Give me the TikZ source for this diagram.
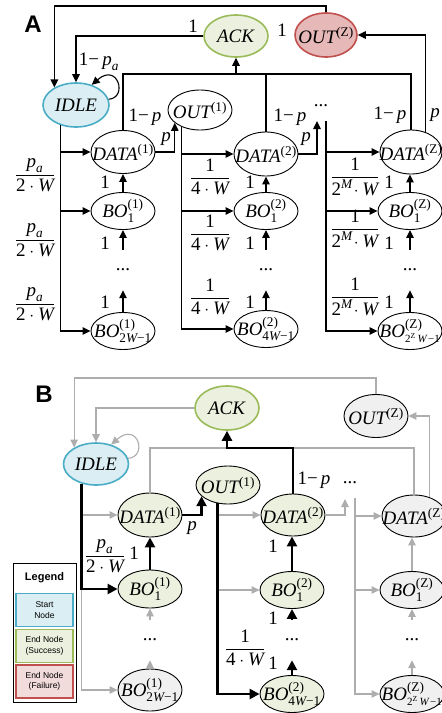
\documentclass[tikz,border=0pt]{standalone}
\usepackage{amsmath}
\usepackage{fontspec}
\setmainfont{Liberation Serif}
\newfontfamily\lsans{Liberation Sans}
\usetikzlibrary{shapes.geometric,arrows.meta,calc}
\definecolor{bluefill}{HTML}{DAEEF3}
\definecolor{blueline}{HTML}{4BACC6}
\definecolor{greenfill}{HTML}{EBF1DE}
\definecolor{greenline}{HTML}{9BBB59}
\definecolor{redfill}{HTML}{E6B8B7}
\definecolor{redlight}{HTML}{F2DCDB}
\definecolor{redline}{HTML}{C0504D}
\definecolor{grayfill}{HTML}{F0F0F0}
\definecolor{linegray}{HTML}{ADADAD}
\newcommand{\mi}[1]{\textit{#1}}
\newcommand{\up}[1]{\textrm{#1}}
\newcommand{\zsub}{\hbox{\fontsize{11}{11}\selectfont 2\textsuperscript{Z}\,\textit{W}\kern0.5pt−1}}
\tikzset{
  st/.style={ellipse, draw, line width=0.9pt, minimum width=64pt, minimum height=42pt, inner sep=0pt},
  wh/.style={st, fill=white},
  gy/.style={st, fill=grayfill},
  gn/.style={st, fill=greenfill},
  bo/.style={minimum height=37pt},
  startn/.style={st, fill=bluefill, draw=blueline, line width=1.6pt},
  succn/.style={st, fill=greenfill, draw=greenline, line width=1.6pt},
  failn/.style={st, fill=redfill, draw=redline, line width=1.6pt},
  ln/.style={line width=1.1pt},
  arr/.style={ln, -{Triangle[length=8pt,width=7.5pt]}},
  gln/.style={line width=1.1pt, draw=linegray},
  garr/.style={gln, -{Triangle[length=8pt,width=7.5pt]}, linegray},
  thk/.style={line width=2.8pt},
  tarr/.style={thk, -{Triangle[length=10pt,width=10pt]}},
  lab/.style={inner sep=0pt},
  dotn/.style={minimum height=40pt, minimum width=12pt, inner sep=0pt},
  panel/.style={font=\lsans\bfseries\fontsize{24}{26}\selectfont, inner sep=0pt},
  legbox/.style={draw, line width=1.6pt, minimum width=57pt, minimum height=33pt, inner sep=0pt, align=center, font=\lsans\fontsize{8.5}{10.5}\selectfont},
}
\begin{document}
\begin{tikzpicture}[x=1pt,y=-1pt,font=\fontsize{19}{21}\selectfont]
\useasboundingbox (0,0) rectangle (442,713);

% ================= PANEL A =================
\node[panel] (labA) at (33,24) {A};

\node[succn, label={center:\mi{ACK}}] (ackA) at (236,36) {};
\node[failn, minimum height=44pt, minimum width=62pt, label={center:$\mi{OUT}^{\up{(Z)}}$}] (outZA) at (326,35) {};
\node[startn, minimum width=66pt, minimum height=44pt, label={center:\mi{IDLE}}] (idleA) at (76,105) {};
\node[wh, minimum height=43pt, label={center:$\mi{DATA}^{\up{(1)}}$}] (data1A) at (123,152) {};
\node[wh, minimum height=40pt, label={center:$\mi{OUT}^{\up{(1)}}$}] (out1A) at (200,110) {};
\node[wh, minimum height=44pt, label={center:$\mi{DATA}^{\up{(2)}}$}] (data2A) at (266,154) {};
\node[wh, minimum height=44pt, minimum width=62pt, label={center:$\mi{DATA}^{\up{(Z)}}$}] (dataZA) at (411,152) {};
\node[wh, bo, label={center:$\mi{BO}^{\up{(1)}}_{\up{1}}$}] (bo11A) at (123,211) {};
\node[wh, bo, label={center:$\mi{BO}^{\up{(1)}}_{\up{2}\mi{W}\up{−1}}$}] (bo1nA) at (123,331) {};
\node[wh, bo, label={center:$\mi{BO}^{\up{(2)}}_{\up{1}}$}] (bo21A) at (266,211) {};
\node[wh, bo, label={center:$\mi{BO}^{\up{(2)}}_{\up{4}\mi{W}\up{−1}}$}] (bo2nA) at (266,329) {};
\node[wh, bo, label={center:$\mi{BO}^{\up{(Z)}}_{\up{1}}$}] (boZ1A) at (410,211) {};
\node[wh, bo, label={center:$\mi{BO}^{\up{(Z)}}_{\zsub}$}] (boZnA) at (410,331) {};
\node[dotn] (dots1A) at (123,270) {...};
\node[dotn] (dots2A) at (266,270) {...};
\node[dotn] (dotsZA) at (410,270) {...};
\node[lab] (dots3A) at (321,106) {...};

\coordinate (topA) at (0,6);
\coordinate (colA) at (0,74);
\coordinate (d3tipA) at (317,121);
\coordinate (c3A) at (326,121);

% top line from OUT(Z) to IDLE
\draw[arr] (outZA.north) -- (outZA.north |- topA) -| (idleA.141);
% ACK to IDLE
\draw[arr] (ackA.west) -| (idleA.north);
% self loop
\draw[arr] (idleA.10) .. controls (128,98) and (118,62) .. (idleA.52);
% collector to ACK
\draw[ln] (data1A.north) -- (data1A.north |- colA) -| (dataZA.north);
\draw[ln] (data2A.north) -- (data2A.north |- colA);
\draw[arr] (ackA.south |- colA) -- (ackA.south);
% DATA(Z) to OUT(Z)
\draw[arr] (dataZA.55) |- (outZA.east);
% IDLE trunk
\coordinate (ia) at (idleA.233);
\draw[arr] (ia) |- (bo1nA.west);
\draw[arr] (ia |- data1A) -- (data1A.west);
\draw[arr] (ia |- bo11A) -- (bo11A.west);
% DATA1 to OUT1
\draw[arr] (data1A.east) -| (out1A.207);
% OUT1 trunk
\coordinate (oa) at (out1A.223);
\draw[arr] (oa) |- (bo2nA.west);
\draw[arr] (oa |- data2A) -- (data2A.west);
\draw[arr] (oa |- bo21A) -- (bo21A.west);
% DATA2 to dots
\draw[arr] (data2A.east) -| (d3tipA);
% column 3 trunk
\draw[arr] (c3A) |- (boZnA.west);
\draw[arr] (c3A |- dataZA) -- (dataZA.west);
\draw[arr] (c3A |- boZ1A) -- (boZ1A.west);
% chains
\draw[arr] (bo11A.north) -- (data1A.south);
\draw[arr] (dots1A.north) -- (bo11A.south);
\draw[arr] (bo1nA.north) -- (dots1A.south);
\draw[arr] (bo21A.north) -- (data2A.south);
\draw[arr] (dots2A.north) -- (bo21A.south);
\draw[arr] (bo2nA.north) -- (dots2A.south);
\draw[arr] (boZ1A.north) -- (dataZA.south -| boZ1A.north);
\draw[arr] (dotsZA.north) -- (boZ1A.south);
\draw[arr] (boZnA.north) -- (dotsZA.south);

% labels A
\node[lab] (lA1) at (193,26) {1};
\node[lab] (lA2) at (282,30) {1};
\node[lab] (lA3) at (99,62) {1−\,$\mi{p}_{\mi{a}}$};
\node[lab] (lA4) at (145,117) {1−\,\mi{p}};
\node[lab] (lA5) at (166,139) {\mi{p}};
\node[lab] (lA6) at (290,117) {1−\,\mi{p}};
\node[lab] (lA7) at (306,139) {\mi{p}};
\node[lab] (lA8) at (390,115) {1−\,\mi{p}};
\node[lab] (lA9) at (435,115) {\mi{p}};
\foreach \y/\n in {175/a,240/b,304/c}{
  \node[lab] (fr1\n) at (35,\y) {$\dfrac{\mi{p}_{\mi{a}}}{\up{2}\cdot\mi{W}}$};
}
\foreach \y/\n in {177/a,233/b,297/c}{
  \node[lab] (fr2\n) at (210,\y) {$\dfrac{\up{1}}{\up{4}\cdot\mi{W}}$};
}
\foreach \y/\n in {177/a,229/b,297/c}{
  \node[lab] (fr3\n) at (355,\y) {$\dfrac{\up{1}}{\up{2}^{\mi{M}}\!\cdot\mi{W}}$};
}
\foreach \y/\n in {182/a,243/b,302/c}{
  \node[lab] (one1\n) at (105,\y) {1};
  \node[lab] (one2\n) at (250,\y) {1};
  \node[lab] (one3\n) at (389,\y) {1};
}

% ================= PANEL B =================
\node[panel] (labB) at (44,394) {B};

\node[succn, minimum height=44pt, label={center:\mi{ACK}}] (ackB) at (227,408) {};
\node[gy, minimum height=43pt, label={center:$\mi{OUT}^{\up{(Z)}}$}] (outZB) at (376,416) {};
\node[startn, minimum width=65pt, label={center:\mi{IDLE}}] (idleB) at (96,464) {};
\node[gn, minimum height=44pt, label={center:$\mi{DATA}^{\up{(1)}}$}] (data1B) at (150,515) {};
\node[gn, minimum height=38pt, label={center:$\mi{OUT}^{\up{(1)}}$}] (out1B) at (228,485) {};
\node[gn, label={center:$\mi{DATA}^{\up{(2)}}$}] (data2B) at (293,515) {};
\node[gy, label={center:$\mi{DATA}^{\up{(Z)}}$}] (dataZB) at (414,516) {};
\node[gn, minimum height=38pt, label={center:$\mi{BO}^{\up{(1)}}_{\up{1}}$}] (bo11B) at (150,589) {};
\node[gy, label={center:$\mi{BO}^{\up{(1)}}_{\up{2}\mi{W}\up{−1}}$}] (bo1nB) at (150,690) {};
\node[gn, bo, label={center:$\mi{BO}^{\up{(2)}}_{\up{1}}$}] (bo21B) at (292,590) {};
\node[gn, bo, label={center:$\mi{BO}^{\up{(2)}}_{\up{4}\mi{W}\up{−1}}$}] (bo2nB) at (292,694) {};
\node[gy, bo, label={center:$\mi{BO}^{\up{(Z)}}_{\up{1}}$}] (boZ1B) at (412,590) {};
\node[gy, bo, label={center:$\mi{BO}^{\up{(Z)}}_{\zsub}$}] (boZnB) at (412,694) {};
\node[dotn] (dots1B) at (150,640) {...};
\node[dotn] (dots2B) at (292,640) {...};
\node[dotn] (dotsZB) at (412,640) {...};
\node[lab] (dots3B) at (350,483) {...};

\coordinate (topB) at (0,378);
\coordinate (colB) at (0,448);
\coordinate (d3tipB) at (345,499);
\coordinate (c3B) at (355,498);

% top gray line
\draw[garr] (outZB.north) -- (outZB.north |- topB) -| (idleB.143);
\draw[garr] (ackB.west) -| (idleB.north);
\draw[garr] (idleB.10) .. controls (148,457) and (138,421) .. (idleB.52);
% collector
\draw[gln] (data1B.north) -- (data1B.north |- colB) -| (dataZB.north);
\draw[garr] (dataZB.51) |- (outZB.east);
% IDLE trunk
\coordinate (ib) at (idleB.234);
\draw[garr] (ib |- bo11B) |- (bo1nB.west);
\draw[garr] (ib |- data1B) -- (data1B.west);
\draw[tarr] (ib) |- (bo11B.west);
% OUT1 trunk
\coordinate (ob) at (out1B.241);
\draw[garr] (ob |- data2B) -- (data2B.west);
\draw[garr] (ob |- bo21B) -- (bo21B.west);
\draw[tarr] (ob) |- (bo2nB.west);
% DATA2 to dots, column 3
\draw[garr] (data2B.east) -| (d3tipB);
\draw[garr] (c3B) |- (boZnB.west);
\draw[garr] (c3B |- dataZB) -- (dataZB.west);
\draw[garr] (c3B |- boZ1B) -- (boZ1B.west);
% chains
\draw[garr] (dots1B.north) -- (bo11B.south);
\draw[garr] (bo1nB.north) -- (dots1B.south);
\draw[garr] (boZ1B.north) -- (dataZB.south -| boZ1B.north);
\draw[garr] (dotsZB.north) -- (boZ1B.south);
\draw[garr] (boZnB.north) -- (dotsZB.south);
% highlighted path
\draw[tarr] (bo11B.north) -- (data1B.south);
\draw[tarr] (data1B.east) -| (out1B.203);
\draw[tarr] (bo2nB.north) -- (dots2B.south);
\draw[tarr] (dots2B.north) -- (bo21B.south);
\draw[tarr] (bo21B.north) -- (data2B.south -| bo21B.north);
\draw[tarr] (data2B.north) -- (data2B.north |- colB) -| (ackB.south);

% labels B
\node[lab] (lB1) at (314,480) {1−\,\mi{p}};
\node[lab] (lB2) at (192,528) {\mi{p}};
\node[lab] (frB1) at (105,556) {$\dfrac{\mi{p}_{\mi{a}}}{\up{2}\cdot\mi{W}}$};
\node[lab] (oneB0) at (134,553) {1};
\node[lab] (frB2) at (245,648) {$\dfrac{\up{1}}{\up{4}\cdot\mi{W}}$};
\node[lab] (oneB1) at (273,546) {1};
\node[lab] (oneB2) at (273,618) {1};
\node[lab] (oneB3) at (273,663) {1};

% legend
\node[draw, line width=0.9pt, minimum width=63pt, minimum height=139pt, inner sep=0pt] (leg) at (44.5,632.5) {};
\node[lab, font=\lsans\bfseries\fontsize{11}{13}\selectfont] (legt) at (44.5,578) {Legend};
\node[legbox, fill=bluefill, draw=blueline] (lg1) at (44.5,610) {Start\\Node};
\node[legbox, fill=greenfill, draw=greenline] (lg2) at (44.5,646) {End Node\\(Success)};
\node[legbox, fill=redlight, draw=redline] (lg3) at (44.5,681.5) {End Node\\(Failure)};
\end{tikzpicture}
\end{document}
